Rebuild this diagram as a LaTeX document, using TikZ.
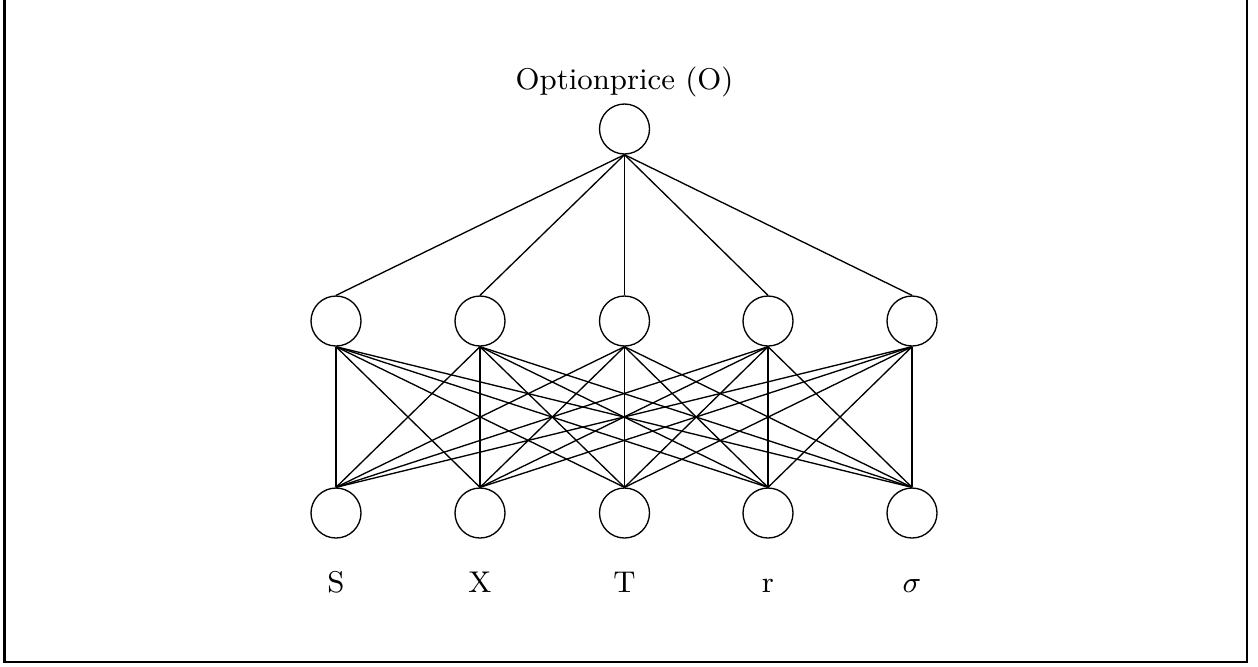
\documentclass[tikz,border=0pt]{standalone}
\usetikzlibrary{positioning}

\begin{document}
\begin{tikzpicture}[
        x=0.3pt, y=-0.3pt,
        neuron/.style={circle, draw, thin, minimum size=15pt, inner sep=0pt},
        lbl/.style={anchor=base, font=\fontsize{9}{11}\selectfont},
        wire/.style={thin}
    ]
        \useasboundingbox (0,0) rectangle (1258,666);
        \draw[line width=0.7pt] (4.5,-4) rectangle (1247,662);

        % Output
        \node[neuron] (out) at (624.5,129) {};
        \node[lbl] (out_lbl) at (624.5,89) {Optionprice (O)};

        % Hidden layer
        \node[neuron] (h1) at (336,321) {};
        \node[neuron] (h2) at (480,321) {};
        \node[neuron] (h3) at (624.5,321) {};
        \node[neuron] (h4) at (768,321) {};
        \node[neuron] (h5) at (912,321) {};

        % Inputs
        \node[neuron] (i1) at (336,513) {};
        \node[neuron] (i2) at (480,513) {};
        \node[neuron] (i3) at (624.5,513) {};
        \node[neuron] (i4) at (768,513) {};
        \node[neuron] (i5) at (912,513) {};

        \node[lbl] (l_s) at (336,592) {S};
        \node[lbl] (l_x) at (480,592) {X};
        \node[lbl] (l_t) at (624.5,592) {T};
        \node[lbl] (l_r) at (768,592) {r};
        \node[lbl] (l_sig) at (912,592) {$\sigma$};

        % Connections
        \foreach \h in {1,...,5} {
            \draw[wire] (out.south) -- (h\h.north);
            \foreach \i in {1,...,5}
                \draw[wire] (h\h.south) -- (i\i.north);
        }
    \end{tikzpicture}
\end{document}
